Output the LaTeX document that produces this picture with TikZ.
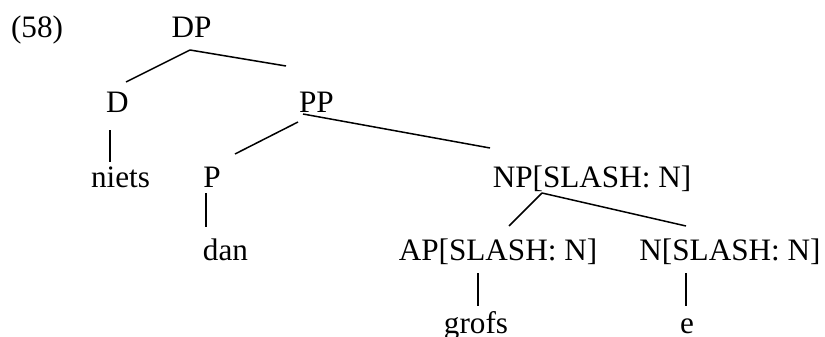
\documentclass[tikz,border=0pt]{standalone}
\usepackage{fontspec}
\setmainfont{Liberation Serif}
\begin{document}
\begin{tikzpicture}[x=0.5pt,y=-0.5pt,
  lbl/.style={anchor=base,inner sep=0pt,font=\fontsize{15.6}{18}\selectfont},
  br/.style={line width=0.75pt}]
\useasboundingbox (0,0) rectangle (825,337);
% labels
\node[lbl] (ex) at (37,37) {(58)};
\node[lbl] (DP) at (191.5,37) {DP};
\node[lbl] (D) at (117.5,112) {D};
\node[lbl] (PP) at (316.5,112) {PP};
\node[lbl] (niets) at (120.5,187) {niets};
\node[lbl] (P) at (212,187) {P};
\node[lbl] (NP) at (592,187) {NP[SLASH: N]};
\node[lbl] (dan) at (225.5,260) {dan};
\node[lbl] (AP) at (498,260) {AP[SLASH: N]};
\node[lbl] (N) at (730,260) {N[SLASH: N]};
\node[lbl] (grofs) at (476,333) {grofs};
\node[lbl] (e) at (687,333) {e};
% branch end points
\coordinate (DPb) at (190,50);
\coordinate (Dt) at (126,82);
\coordinate (PPt) at (286,66);
\coordinate (Db) at (110,130);
\coordinate (nietst) at (110,162);
\coordinate (PPbr) at (303,114);
\coordinate (PPbl) at (298,122);
\coordinate (NPt) at (490,148);
\coordinate (Pt) at (235,154);
\coordinate (Pb) at (206,193);
\coordinate (dant) at (206,227);
\coordinate (NPb) at (542,193);
\coordinate (APt) at (509,226);
\coordinate (Nt) at (686,226);
\coordinate (APb) at (478,273);
\coordinate (grofst) at (478,306);
\coordinate (Nb) at (686,273);
\coordinate (et) at (686,306);
% branches
\draw[br] (DPb) -- (Dt);
\draw[br] (DPb) -- (PPt);
\draw[br] (Db) -- (nietst);
\draw[br] (PPbr) -- (NPt);
\draw[br] (PPbl) -- (Pt);
\draw[br] (Pb) -- (dant);
\draw[br] (NPb) -- (APt);
\draw[br] (NPb) -- (Nt);
\draw[br] (APb) -- (grofst);
\draw[br] (Nb) -- (et);
\end{tikzpicture}
\end{document}
